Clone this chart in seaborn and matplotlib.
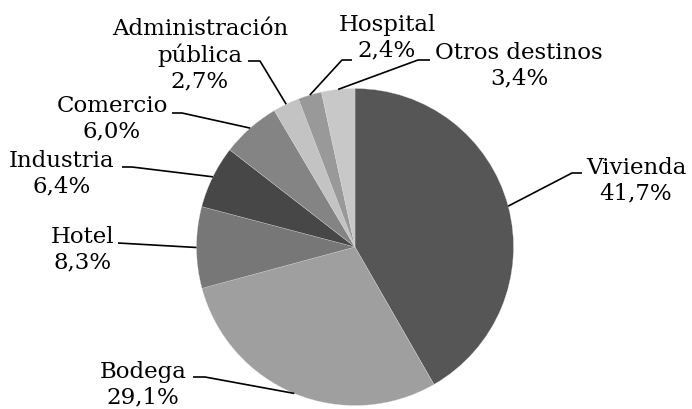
import numpy as np
import matplotlib
matplotlib.use("Agg")
import matplotlib.pyplot as plt
import seaborn as sns

# ---- data ----
categories = ["Vivienda", "Bodega", "Hotel", "Industria", "Comercio",
              "Administración\npública", "Hospital", "Otros destinos"]
shares = [41.7, 29.1, 8.3, 6.4, 6.0, 2.7, 2.4, 3.4]
value_labels = ["41,7%", "29,1%", "8,3%", "6,4%", "6,0%", "2,7%", "2,4%", "3,4%"]

# ---- style ----
colors = ["#565656", "#9f9f9f", "#777777", "#474747", "#848484",
          "#c3c3c3", "#999999", "#c8c8c8"]

sns.set_style("white")
plt.rcParams["font.family"] = ["DejaVu Serif", "DejaVu Sans"]

W, H = 692, 409
fig = plt.figure(figsize=(W / 100, H / 100), dpi=100)
fig.patch.set_facecolor("white")

# pie axes: centre (355, 247) px, radius 158.5 px
cx, cy, R = 355, 247, 158.5
ax = fig.add_axes([(cx - R) / W, (H - cy - R) / H, 2 * R / W, 2 * R / H])
wedges, _ = ax.pie(shares, colors=colors, startangle=90, counterclock=False,
                   radius=1, wedgeprops=dict(linewidth=0.2, edgecolor="#dddddd"))
ax.set_xlim(-1, 1)
ax.set_ylim(-1, 1)
ax.set_aspect("equal")
ax.axis("off")


def px2d(px, py):
    return ((px - cx) / R, (cy - py) / R)


# label layout (pixels): text centre, leader elbow, leader end
layout = [
    ((636, 181), (572, 173), (582, 173)),
    ((143, 385), (205, 377), (193, 377)),
    ((83, 250), (150, 244), (118, 243)),
    ((62, 174), (132, 167), (122, 167)),
    ((112, 119), (182, 113), (172, 113)),
    ((200, 55), (260, 61), (248, 61)),
    ((387, 38), (342, 60), (352, 60)),
    ((519, 66), (418, 60), (430, 60)),
]

for w, cat, vl, (tpos, elbow, end) in zip(wedges, categories, value_labels, layout):
    mid = np.deg2rad((w.theta1 + w.theta2) / 2)
    start = (np.cos(mid), np.sin(mid))
    e = px2d(*elbow)
    t = px2d(*end)
    if cat == "Hotel":
        xs, ys = [start[0], t[0]], [start[1], t[1]]
    else:
        xs, ys = [start[0], e[0], t[0]], [start[1], e[1], t[1]]
    ax.plot(xs, ys, color="black", lw=1.2, clip_on=False, solid_capstyle="butt")
    tx, ty = px2d(*tpos)
    ax.text(tx, ty, f"{cat}\n{vl}", ha="center", va="center",
            multialignment="center", fontsize=16.5, color="black",
            linespacing=1.2)

fig.savefig("out.png", dpi=100)
